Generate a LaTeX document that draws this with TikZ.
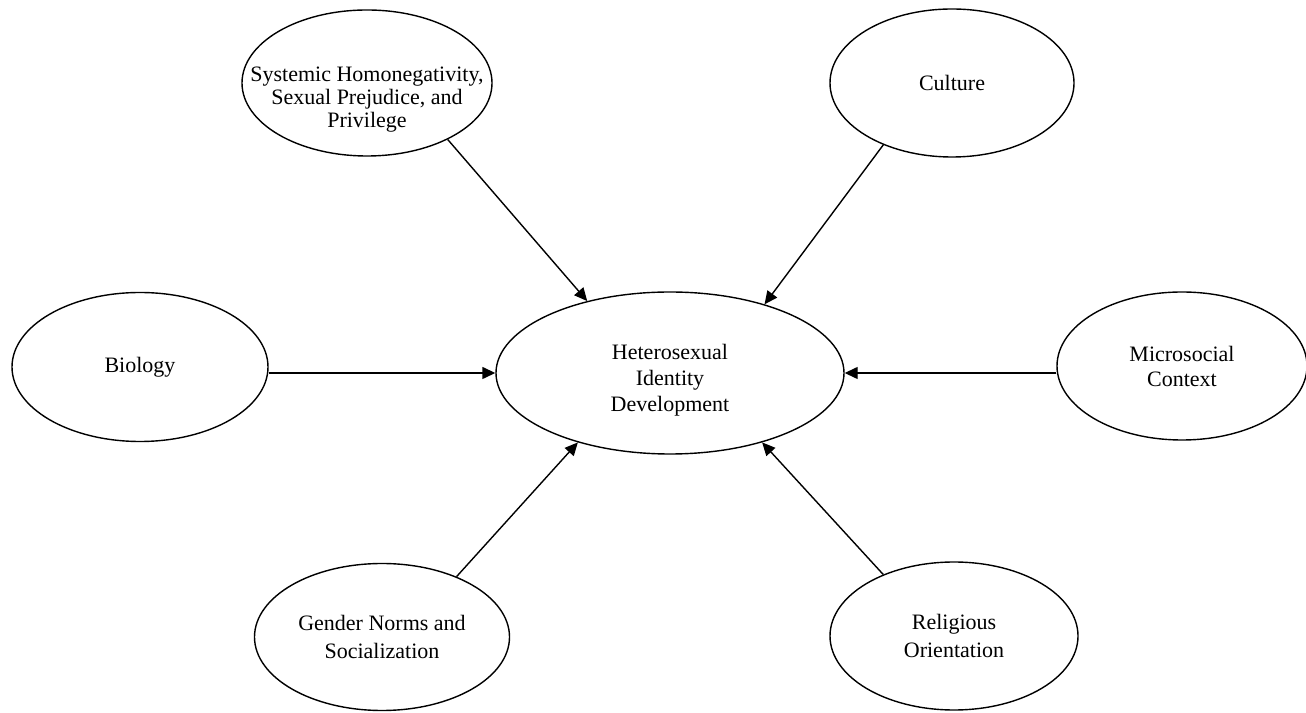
\documentclass[tikz,border=0pt]{standalone}
\usepackage{fontspec}
\setmainfont{Liberation Serif}
\usetikzlibrary{arrows.meta,shapes.geometric}

\begin{document}
\begin{tikzpicture}[
  x=0.5pt, y=0.5pt,
  factor/.style={draw, ellipse, line width=0.7pt, align=center, inner sep=0pt, font=\fontsize{11}{13}\selectfont},
  arrow/.style={-{Triangle[length=6.5pt,width=6pt]}, line width=0.7pt}
]
\useasboundingbox (0,0) rectangle (1306,712);
\node[factor, minimum width=174pt, minimum height=81pt] (hid) at (670,339) {\rule{0pt}{15pt}Heterosexual\\Identity\\Development};
\node[factor, minimum width=125pt, minimum height=73pt] (sys) at (367,629) {};
\node[align=center, font=\fontsize{11}{11.5}\selectfont] (systext) at ([yshift=-8.5pt]sys.center) {Systemic Homonegativity,\\Sexual Prejudice, and\\Privilege};
\node[factor, minimum width=122pt, minimum height=74pt] (cul) at (952,629) {Culture};
\node[factor, minimum width=128pt, minimum height=74.5pt] (bio) at (140,345) {Biology};
\node[factor, minimum width=125pt, minimum height=74pt, font=\fontsize{11}{12.5}\selectfont] (mic) at (1182,346) {Microsocial\\Context};
\node[factor, minimum width=127.5pt, minimum height=73.5pt, font=\fontsize{11}{14}\selectfont] (gen) at (382,75) {Gender Norms and\\Socialization};
\node[factor, minimum width=124pt, minimum height=74pt, font=\fontsize{11}{14}\selectfont] (rel) at (954,76) {Religious\\Orientation};
\draw[arrow] (sys.-35) -- (hid.139.5);
\draw[arrow] (cul.222) -- (hid.36);
\draw[arrow] (bio.east |- hid.west) -- (hid.west);
\draw[arrow] (mic.west |- hid.east) -- (hid.east);
\draw[arrow] (gen.39.6) -- (hid.217);
\draw[arrow] (rel.139.3) -- (hid.323.6);
\end{tikzpicture}
\end{document}
